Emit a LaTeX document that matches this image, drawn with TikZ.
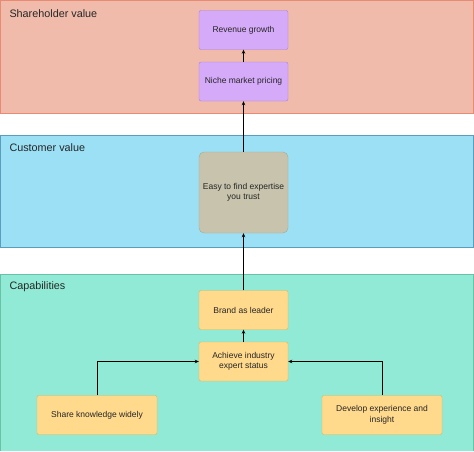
\documentclass[tikz,border=0pt]{standalone}
\usepackage{fontspec}
\setmainfont{Liberation Sans}
\usetikzlibrary{arrows.meta}
\definecolor{shfill}{HTML}{F0BBAA}
\definecolor{shline}{HTML}{E98B73}
\definecolor{cufill}{HTML}{9BE0F5}
\definecolor{culine}{HTML}{5B9EBB}
\definecolor{cafill}{HTML}{90EAD5}
\definecolor{caline}{HTML}{67C2A8}
\definecolor{lilac}{HTML}{D5AAF8}
\definecolor{lilacline}{HTML}{A980D6}
\definecolor{khaki}{HTML}{C7C3AC}
\definecolor{khakiline}{HTML}{A3AC94}
\definecolor{amber}{HTML}{FFD98C}
\definecolor{amberline}{HTML}{E6B54F}
\begin{document}
\begin{tikzpicture}
  [x=1pt,y=-1pt,every node/.style={font=\fontsize{8.5}{10.5}\selectfont,align=center,text=black!85}]
  \tikzstyle{lane} = [line width=0.8pt]
  \tikzstyle{lanelabel} = [anchor=west,font=\fontsize{10.8}{12}\selectfont]
  \tikzstyle{box} = [draw,rounded corners=2pt,minimum width=89pt,minimum height=39pt,inner sep=1pt]
  \tikzstyle{link} = [-{Stealth[length=4pt,width=3.5pt]},line width=0.6pt]
  \useasboundingbox (0,0) rectangle (474,451);
  % lanes
  \fill[shfill] (0,0) rectangle (474,114);
  \draw[lane,shline] (0.4,0.4) rectangle (473.6,113.6);
  \fill[cufill] (0,135) rectangle (474,248);
  \draw[lane,culine] (0.4,135.4) rectangle (473.6,247.6);
  \fill[cafill] (0,274) rectangle (474,451);
  \draw[lane,caline] (0.4,274.4) -- (0.4,451) (473.6,451) -- (473.6,274.4) -- (0.4,274.4);
  \node[lanelabel] (lshare) at (6,13.5)  {Shareholder value};
  \node[lanelabel] (lcust)  at (6,147.5) {Customer value};
  \node[lanelabel] (lcap)   at (6,286.5) {Capabilities};
  % boxes
  \node[box,fill=lilac,draw=lilacline] (revenue) at (243.5,30)   {Revenue growth};
  \node[box,fill=lilac,draw=lilacline] (niche)   at (243.5,81.5) {Niche market pricing};
  \node[box,fill=khaki,draw=khakiline,minimum height=81pt,rounded corners=5pt] (easy) at (243.5,192.5) {Easy to find expertise\\you trust};
  \node[box,fill=amber,draw=amberline] (brand)   at (243.5,310)   {Brand as leader};
  \node[box,fill=amber,draw=amberline] (achieve) at (243.5,361.5) {Achieve industry\\expert status};
  \node[box,fill=amber,draw=amberline,minimum width=120pt] (share)   at (97,415)  {Share knowledge widely};
  \node[box,fill=amber,draw=amberline,minimum width=120pt] (develop) at (382,415) {Develop experience and\\insight};
  % links
  \foreach \source/\dest in {niche/revenue,easy/niche,brand/easy,achieve/brand}
    \draw[link] (\source.north) -- (\dest.south);
  \draw[link] (share.north) |- (achieve.west);
  \draw[link] (develop.north) |- (achieve.east);
\end{tikzpicture}
\end{document}
